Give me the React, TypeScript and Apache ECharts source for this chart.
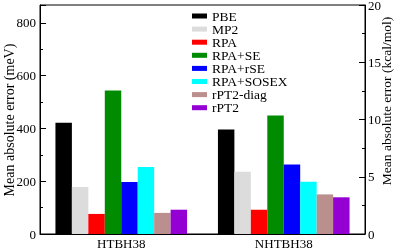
import React, { useEffect, useRef } from "react";
import * as echarts from "echarts";

const categories = ["HTBH38", "NHTBH38"];
const seriesNames = ["PBE", "MP2", "RPA", "RPA+SE", "RPA+rSE", "RPA+SOSEX", "rPT2-diag", "rPT2"];
const seriesColors = ["#000000", "#dcdcdc", "#ff0000", "#008b00", "#0000ff", "#00ffff", "#bc8f8f", "#9400d3"];
const PBE = [421, 396];
const MP2 = [178, 236];
const RPA = [76, 92];
const RPA_SE = [543, 449];
const RPA_rSE = [197, 263];
const RPA_SOSEX = [254, 198];
const rPT2_diag = [80, 150];
const rPT2 = [92, 139];
const seriesValues = [PBE, MP2, RPA, RPA_SE, RPA_rSE, RPA_SOSEX, rPT2_diag, rPT2];
const KCAL_TO_MEV = 43.3641;
const rightMax = 20;
const leftName = "Mean absolute error (meV)";
const rightName = "Mean absolute error (kcal/mol)";

const FONT = "'Liberation Serif', 'Times New Roman', Times, serif";

export default function App() {
  const ref = useRef<HTMLDivElement>(null);
  useEffect(() => {
    if (!ref.current) return;
    const chart = echarts.init(ref.current, null, { renderer: "svg" });
    chart.setOption({
      animation: false,
      grid: {
        left: 40, right: 34, top: 5, bottom: 16,
        containLabel: false, outerBoundsMode: "none",
        show: true, borderColor: "#000", borderWidth: 1, backgroundColor: "transparent",
      },
      legend: {
        orient: "vertical",
        left: 192,
        top: 9,
        padding: 0,
        itemGap: -0.9,
        itemWidth: 15,
        itemHeight: 5,
        icon: "rect",
        data: seriesNames,
        textStyle: { fontFamily: FONT, fontSize: 13.5, color: "#000", lineHeight: 12.4 },
      },
      graphic: [
        {
          type: "text",
          x: 9,
          y: 120,
          rotation: Math.PI / 2,
          style: { text: leftName, fontFamily: FONT, fontSize: 14, fill: "#000", textAlign: "center", textVerticalAlign: "middle" },
        },
        {
          type: "text",
          x: 386,
          y: 101,
          rotation: Math.PI / 2,
          style: { text: rightName, fontFamily: FONT, fontSize: 13.5, fill: "#000", textAlign: "center", textVerticalAlign: "middle" },
        },
      ],
      xAxis: {
        type: "category",
        data: categories,
        axisLine: { lineStyle: { color: "#000" } },
        axisTick: { show: false },
        axisLabel: { fontFamily: FONT, fontSize: 13, color: "#000", margin: 3 },
      },
      yAxis: [
        {
          type: "value",
          min: 0,
          max: rightMax * KCAL_TO_MEV,
          interval: 200,
          axisLine: { show: true, lineStyle: { color: "#000" } },
          axisTick: { show: true, inside: true, length: 6, lineStyle: { color: "#000" } },
          minorTick: { show: true, splitNumber: 2, length: 3, lineStyle: { color: "#000" } },
          splitLine: { show: false },
          axisLabel: { fontFamily: FONT, fontSize: 13, color: "#000", margin: 4, showMaxLabel: false },
        },
        {
          type: "value",
          min: 0,
          max: rightMax,
          interval: 5,
          position: "right",
          axisLine: { show: true, lineStyle: { color: "#000" } },
          axisTick: { show: true, inside: true, length: 6, lineStyle: { color: "#000" } },
          minorTick: { show: true, splitNumber: 2, length: 3, lineStyle: { color: "#000" } },
          splitLine: { show: false },
          axisLabel: { fontFamily: FONT, fontSize: 13, color: "#000", margin: 3 },
        },
      ],
      series: seriesNames.map((name, i) => ({
        name,
        type: "bar",
        yAxisIndex: 0,
        data: seriesValues[i],
        barGap: "0%",
        barCategoryGap: "19%",
        itemStyle: { color: seriesColors[i] },
      })),
    });
    return () => chart.dispose();
  }, []);
  return <div ref={ref} style={{ position: "fixed", left: 0, top: 0, width: 399, height: 250 }} />;
}
